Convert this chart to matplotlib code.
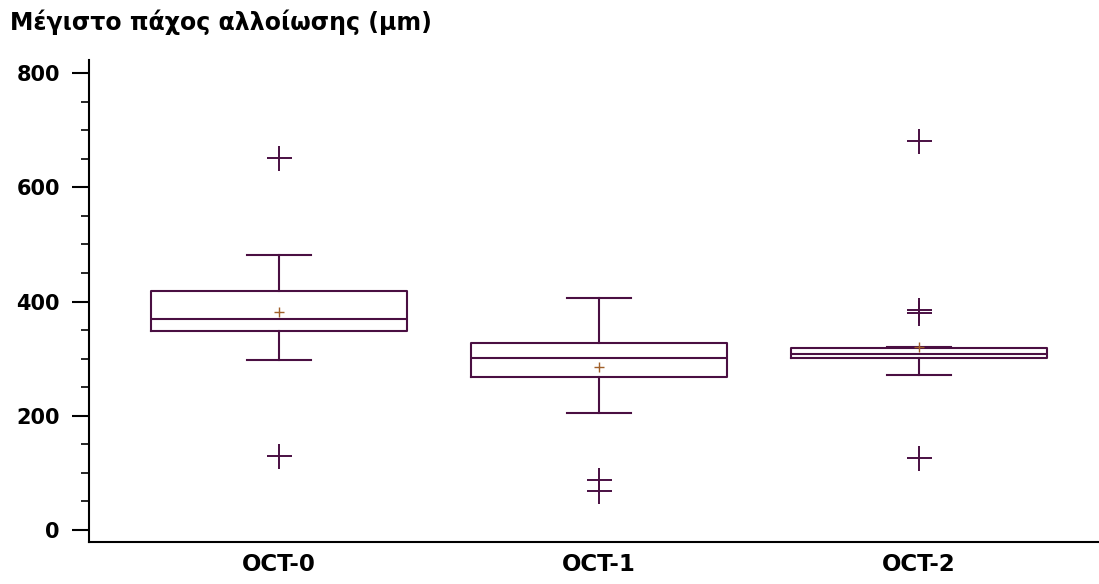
import matplotlib.pyplot as plt
from matplotlib.ticker import MultipleLocator

# Box statistics
groups = ["OCT-0", "OCT-1", "OCT-2"]
q1 = [348, 268, 301]
median = [369, 301, 308]
q3 = [418, 327, 319]
whisker_lo = [298, 205, 271]
whisker_hi = [481, 406, 320]
means = [382, 285, 320]
outliers = [[651, 130], [88, 68], [681, 386, 380, 126]]

title = "Μέγιστο πάχος αλλοίωσης (μm)"

line_col = "#4a0f42"
mean_col = "#a0602a"

stats = []
for i, name in enumerate(groups):
    stats.append(dict(label=name, q1=q1[i], med=median[i], q3=q3[i],
                      whislo=whisker_lo[i], whishi=whisker_hi[i],
                      mean=means[i], fliers=outliers[i]))

fig = plt.figure(figsize=(10.99, 5.84), dpi=100)
ax = fig.add_axes([0.081, 0.072, 0.919, 0.825])

lw = 1.5
ax.bxp(stats, positions=range(len(groups)), widths=0.8, capwidths=0.2,
       showmeans=True,
       boxprops=dict(color=line_col, linewidth=lw),
       medianprops=dict(color=line_col, linewidth=lw),
       whiskerprops=dict(color=line_col, linewidth=lw),
       capprops=dict(color=line_col, linewidth=lw),
       flierprops=dict(marker="+", markersize=18, markeredgewidth=1.4,
                       markeredgecolor=line_col, linestyle="none"),
       meanprops=dict(marker="+", markersize=7, markeredgewidth=1,
                      markeredgecolor=mean_col))

ax.set_xlim(-0.594, 2.5625)
ax.set_ylim(-21, 822.8)
ax.yaxis.set_major_locator(MultipleLocator(200))
ax.yaxis.set_minor_locator(MultipleLocator(50))

for s in ["top", "right"]:
    ax.spines[s].set_visible(False)
for s in ["left", "bottom"]:
    ax.spines[s].set_linewidth(1.5)
    ax.spines[s].set_color("black")

ax.tick_params(axis="y", which="major", length=12, width=1.5, direction="out",
               labelsize=15, pad=9)
ax.tick_params(axis="y", which="minor", length=6, width=1.2, direction="out")
ax.tick_params(axis="x", length=0, labelsize=16.5, pad=8)
for lab in ax.get_yticklabels() + ax.get_xticklabels():
    lab.set_fontweight("bold")

fig.text(0.009, 0.962, title, fontsize=17, fontweight="bold",
         ha="left", va="center")

fig.savefig("out.png", dpi=100)
